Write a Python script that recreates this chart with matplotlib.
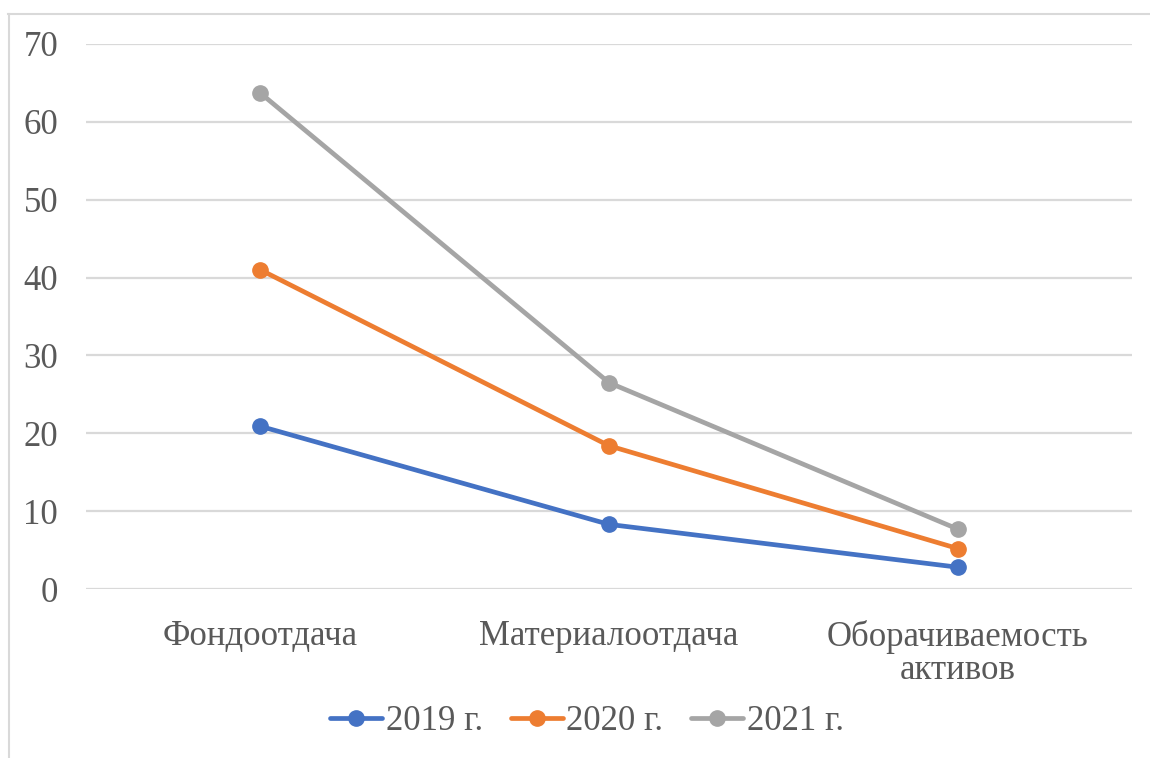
import matplotlib
matplotlib.use("Agg")
import matplotlib.pyplot as plt
from matplotlib.lines import Line2D

categories = ["Фондоотдача", "Материалоотдача", "Оборачиваемость\nактивов"]
series_names = ["2019 г.", "2020 г.", "2021 г."]
v2019 = [20.9, 8.3, 2.8]
v2020 = [41.0, 18.4, 5.2]
v2021 = [63.7, 26.5, 7.7]
colors = ["#4472c4", "#ed7d31", "#a5a5a5"]
yticks = [0, 10, 20, 30, 40, 50, 60, 70]

plt.rcParams["font.family"] = ["Liberation Serif", "DejaVu Serif"]
txt_color = "#595959"

fig = plt.figure(figsize=(11.5, 7.58), dpi=100)
ax = fig.add_axes([86 / 1150, 1 - 589 / 758, 1046 / 1150, 545 / 758])

x = range(len(categories))
for vals, name, c in zip([v2019, v2020, v2021], series_names, colors):
    ax.plot(x, vals, color=c, lw=3.4, marker="o", ms=11, label=name,
            solid_capstyle="round", zorder=3)

ax.set_xlim(-0.5, len(categories) - 0.5)
ax.set_ylim(0, 70)
ax.set_yticks(yticks)
ax.set_xticks(list(x))
ax.set_xticklabels(categories, fontsize=25, color=txt_color, linespacing=1.0)
ax.tick_params(axis="y", labelsize=25, labelcolor=txt_color, length=0, pad=20)
ax.tick_params(axis="x", length=0, pad=22)
ax.grid(axis="y", color="#d9d9d9", lw=1.6)
for s in ax.spines.values():
    s.set_visible(False)
ax.set_axisbelow(True)

# chart outer border (visible top and left only)
fig.add_artist(Line2D([8 / 1150, 1], [1 - 14 / 758, 1 - 14 / 758],
                      color="#d9d9d9", lw=1.5, transform=fig.transFigure))
fig.add_artist(Line2D([9 / 1150, 9 / 1150], [0, 1 - 14 / 758],
                      color="#d9d9d9", lw=1.5, transform=fig.transFigure))

leg = fig.legend(loc="center", bbox_to_anchor=(587 / 1150, 1 - 722 / 758), ncol=3,
                 frameon=False, fontsize=25, handlelength=1.5, handletextpad=0.1,
                 columnspacing=0.8)
for t in leg.get_texts():
    t.set_color(txt_color)

fig.savefig("out.png", dpi=100)
